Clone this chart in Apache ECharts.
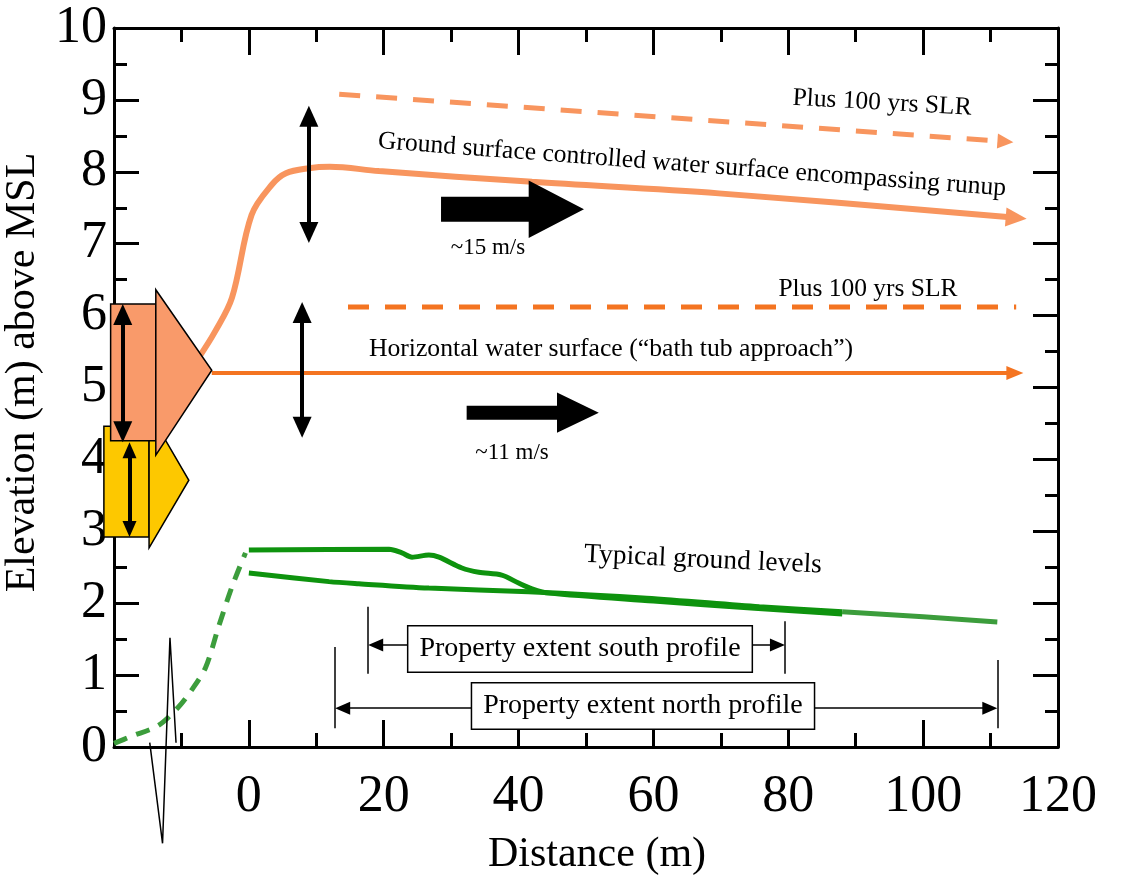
<!DOCTYPE html>
<html>
<head>
<meta charset="utf-8">
<title>Water surface approaches</title>
<script src="https://cdn.jsdelivr.net/npm/echarts@6.0.0/dist/echarts.min.js"></script>
<style>
  html, body { margin: 0; padding: 0; background: #fff; }
  #chart { width: 1121px; height: 881px; }
</style>
</head>
<body>
<div id="chart"></div>
<script>
// axis ranges
var xMin = -20, xMax = 120, xStep = 20;
var yMin = 0, yMax = 10, yStep = 1;

// water surfaces, [distance (m), elevation (m)]
var runupWater = [[-7.4, 5.42], [-5, 5.78], [-2.5, 6.25], [0.4, 7.4], [3.4, 7.82], [5.5, 7.98], [8.9, 8.05],
  [12, 8.07], [19.3, 8.01], [42, 7.86], [69.7, 7.7], [113.8, 7.36]];
var runupSlr = [[13.4, 9.08], [112.2, 8.42]];
var bathTubWater = [[-5.5, 5.2], [113.6, 5.2]];
var bathTubSlr = [[14.7, 6.12], [113.8, 6.12]];

// ground levels
var groundApproach = [[-20, 0.05], [-17.4, 0.15], [-13.4, 0.3], [-10.4, 0.56], [-8.5, 0.79], [-6.4, 1.11],
  [-4.5, 1.67], [-2.5, 2.23], [-0.5, 2.7]];
var groundSouth = [[0, 2.74], [20.8, 2.75], [22.7, 2.7], [24.2, 2.64], [26.7, 2.67], [28.2, 2.64], [31.6, 2.49],
  [34.1, 2.43], [37.5, 2.39], [40, 2.28], [42, 2.2], [44.5, 2.14], [60, 2.03], [75, 1.93], [88, 1.85]];
var groundNorth = [[0, 2.42], [11.9, 2.3], [16.3, 2.27], [26.7, 2.21], [41.5, 2.16], [59, 2.07], [75.7, 1.95], [88, 1.88]];
var groundNorthTail = [[88, 1.88], [100, 1.81], [111, 1.74]];

// axis break zigzag
var breakMark = [[-14.7, 0.06], [-12.8, -1.34], [-11.7, 1.52], [-10.8, 0.06]];

// wave height boxes: x0, x1, yBottom, yTop, headBottom, headTop, tipX, tipY
var waveBoxes = [
  [-21.5, -14.8, 2.92, 4.46, 2.77, 4.66, -8.9, 3.71],
  [-20.5, -13.8, 4.26, 6.16, 4.06, 6.36, -5.5, 5.24]
];
// flow velocity arrows: tailX, headX, tipX, centreY, shaftHalf, headHalf
var velocityArrows = [
  [28.5, 41.5, 49.7, 7.48, 0.174, 0.4],
  [32.3, 45.7, 51.9, 4.65, 0.097, 0.28]
];
// vertical range arrows: x, lower tip, upper tip
var rangeArrows = [[8.9, 7.01, 8.92], [7.9, 4.3, 6.19], [-18.7, 4.24, 6.16], [-17.7, 2.92, 4.24]];
// property extents: start, end, arrow level, tick bottom, left tick top, right tick top
var southExtent = [17.7, 79.5, 1.42, 1.02, 1.95, 1.75];
var northExtent = [12.8, 111, 0.54, 0.26, 1.39, 1.21];

var FONT = '"Liberation Serif", "Times New Roman", serif';
var gridBox = { left: 114, right: 63, top: 28, bottom: 134 };
var xPerPx = (xMax - xMin) / (1121 - gridBox.left - gridBox.right);
var yPerPx = (yMax - yMin) / (881 - gridBox.top - gridBox.bottom);

var salmon = '#F8955E', orange = '#F47421', boxSalmon = '#F99A6A', yellow = '#FDC800';
var greenDark = '#0E930E', greenLight = '#3C9D3C';

function lineSeries(data, color, width, dash, smooth, z) {
  return {
    type: 'line', data: data, z: z, silent: true,
    symbol: 'none', showSymbol: false,
    smooth: smooth || false,
    lineStyle: { color: color, width: width, type: dash || 'solid', cap: 'butt' }
  };
}

function headAtEnd(data, color, size) {
  var n = data.length;
  return {
    silent: true, animation: false, label: { show: false },
    symbol: ['none', 'triangle'],
    lineStyle: { color: color, width: 0, type: 'solid' },
    data: [[{ coord: data[n - 2], symbol: 'none' }, { coord: data[n - 1], symbol: 'triangle', symbolSize: size }]]
  };
}

function renderWaveBox(params, api) {
  var b = waveBoxes[params.dataIndex];
  var fill = params.dataIndex === 0 ? yellow : boxSalmon;
  var st = { fill: fill, stroke: '#000', lineWidth: 1.5 };
  return {
    type: 'group',
    children: [
      { type: 'polygon', shape: { points: [api.coord([b[0], b[2]]), api.coord([b[1], b[2]]), api.coord([b[1], b[3]]), api.coord([b[0], b[3]])] }, style: st },
      { type: 'polygon', shape: { points: [api.coord([b[1], b[4]]), api.coord([b[6], b[7]]), api.coord([b[1], b[5]])] }, style: st }
    ]
  };
}

function renderBlockArrow(params, api) {
  var a = velocityArrows[params.dataIndex];
  var pts = [[a[0], a[3] + a[4]], [a[1], a[3] + a[4]], [a[1], a[3] + a[5]], [a[2], a[3]],
    [a[1], a[3] - a[5]], [a[1], a[3] - a[4]], [a[0], a[3] - a[4]]].map(function (p) { return api.coord(p); });
  return { type: 'polygon', shape: { points: pts }, style: { fill: '#000' } };
}

// annotation marks drawn as mark lines
var annotationLines = [];
rangeArrows.forEach(function (r, i) {
  var head = i === 3 ? [14, 16] : [19, 21];
  var inset = head[1] / 2 * yPerPx;
  annotationLines.push([
    { coord: [r[0], r[1] + inset], symbol: 'triangle', symbolSize: head, lineStyle: { color: '#000', width: 4, type: 'solid' } },
    { coord: [r[0], r[2] - inset], symbol: 'triangle', symbolSize: head }
  ]);
});
[southExtent, northExtent].forEach(function (e) {
  var thin = { color: '#000', width: 1.5, type: 'solid' };
  var inset = 7.5 * xPerPx;
  annotationLines.push([
    { coord: [e[0] + inset, e[2]], symbol: 'triangle', symbolSize: [13, 15], lineStyle: thin },
    { coord: [e[1] - inset, e[2]], symbol: 'triangle', symbolSize: [13, 15] }
  ]);
  annotationLines.push([
    { coord: [e[0], e[3]], symbol: 'none', lineStyle: thin },
    { coord: [e[0], e[4]], symbol: 'none' }
  ]);
  annotationLines.push([
    { coord: [e[1], e[3]], symbol: 'none', lineStyle: thin },
    { coord: [e[1], e[5]], symbol: 'none' }
  ]);
});

var tickStyle = { color: '#000', width: 3 };
function xAxisOf(pos) {
  return {
    type: 'value', position: pos, min: xMin, max: xMax, interval: xStep,
    axisLine: { show: true, onZero: false, lineStyle: tickStyle },
    axisTick: { show: true, inside: true, length: 27, lineStyle: tickStyle },
    minorTick: { show: true, splitNumber: 2, length: 14, lineStyle: tickStyle },
    splitLine: { show: false }, minorSplitLine: { show: false },
    axisLabel: {
      show: pos === 'bottom', showMinLabel: false, margin: 24,
      fontFamily: FONT, fontSize: 52, color: '#000',
      formatter: function (v) { return v < 0 ? '' : String(v); }
    }
  };
}
function yAxisOf(pos) {
  return {
    type: 'value', position: pos, min: yMin, max: yMax, interval: yStep,
    axisLine: { show: true, onZero: false, lineStyle: tickStyle },
    axisTick: { show: true, inside: true, length: 25, lineStyle: tickStyle },
    minorTick: { show: true, splitNumber: 2, length: 13, lineStyle: tickStyle },
    splitLine: { show: false }, minorSplitLine: { show: false },
    axisLabel: { show: pos === 'left', margin: 7, fontFamily: FONT, fontSize: 52, color: '#000' }
  };
}

var xBottom = xAxisOf('bottom');
xBottom.name = 'Distance (m)';
xBottom.nameLocation = 'middle';
xBottom.nameGap = 87;
xBottom.nameTextStyle = { fontFamily: FONT, fontSize: 42, color: '#000', padding: [0, 0, 0, 22] };
var yLeft = yAxisOf('left');
yLeft.name = 'Elevation (m) above MSL';
yLeft.nameLocation = 'middle';
yLeft.nameGap = 62;
yLeft.nameTextStyle = { fontFamily: FONT, fontSize: 42, color: '#000', padding: [0, 0, 0, 30] };

function note(text, x, y, deg, size) {
  return {
    type: 'text', x: x, y: y, z: 20, rotation: deg * Math.PI / 180, silent: true,
    style: { text: text, font: size + 'px ' + FONT, fill: '#000', align: 'center', verticalAlign: 'middle' }
  };
}
function boxNote(text, x, y) {
  return {
    type: 'text', x: x, y: y, z: 20, silent: true,
    style: {
      text: text, font: '28px ' + FONT, fill: '#000', align: 'center', verticalAlign: 'middle',
      backgroundColor: '#fff', borderColor: '#000', borderWidth: 1.5, padding: [8, 11], lineHeight: 29
    }
  };
}

var runupSeries = lineSeries(runupWater, salmon, 6, 'solid', 0.35, 3);
runupSeries.markLine = headAtEnd(runupWater, salmon, [19, 21]);
var runupSlrSeries = lineSeries(runupSlr, salmon, 5, [21, 16], false, 3);
runupSlrSeries.markLine = headAtEnd(runupSlr, salmon, [15, 16]);
var bathSeries = lineSeries(bathTubWater, orange, 4, 'solid', false, 3);
bathSeries.markLine = headAtEnd(bathTubWater, orange, [14, 17]);
var bathSlrSeries = lineSeries(bathTubSlr, orange, 5, [21, 16], false, 3);

var breakSeries = lineSeries(breakMark, '#000', 1.5, 'solid', false, 5);
breakSeries.clip = false;
breakSeries.markLine = {
  silent: true, animation: false, label: { show: false },
  symbol: ['none', 'none'], data: annotationLines
};

var approachSeries = lineSeries(groundApproach, greenLight, 5, [14, 10], 0.3, 2);
approachSeries.clip = false;

var option = {
  animation: false,
  backgroundColor: '#fff',
  grid: { left: gridBox.left, right: gridBox.right, top: gridBox.top, bottom: gridBox.bottom, containLabel: false, outerBoundsMode: 'none' },
  xAxis: [xBottom, xAxisOf('top')],
  yAxis: [yLeft, yAxisOf('right')],
  series: [
    approachSeries,
    lineSeries(groundNorth, greenDark, 5, 'solid', 0.3, 2),
    lineSeries(groundNorthTail, greenLight, 5, 'solid', false, 2),
    lineSeries(groundSouth, greenDark, 5, 'solid', 0.3, 2),
    bathSlrSeries,
    bathSeries,
    runupSlrSeries,
    runupSeries,
    {
      type: 'custom', z: 4, silent: true, clip: false,
      data: waveBoxes, encode: { x: [0, 1, 6], y: [2, 3, 4, 5, 7] },
      renderItem: renderWaveBox
    },
    {
      type: 'custom', z: 4, silent: true, clip: false,
      data: velocityArrows, encode: { x: [0, 1, 2], y: [3] },
      renderItem: renderBlockArrow
    },
    breakSeries
  ],
  graphic: {
    elements: [
      note('Plus 100 yrs SLR', 882, 103, -3.2, 25.5),
      note('Ground surface controlled water surface encompassing runup', 692, 165, -4.3, 25.6),
      note('~15 m/s', 488, 248, 0, 23),
      note('Plus 100 yrs SLR', 868, 289, 0, 25.5),
      note('Horizontal water surface (\u201cbath tub approach\u201d)', 611, 349, 0, 25.7),
      note('~11 m/s', 512, 453, 0, 23),
      note('Typical ground levels', 703, 560, -2.6, 27.5),
      boxNote('Property extent south profile', 580, 649),
      boxNote('Property extent north profile', 643, 706)
    ]
  }
};

var chart = echarts.init(document.getElementById('chart'));
chart.setOption(option);
</script>
</body>
</html>
